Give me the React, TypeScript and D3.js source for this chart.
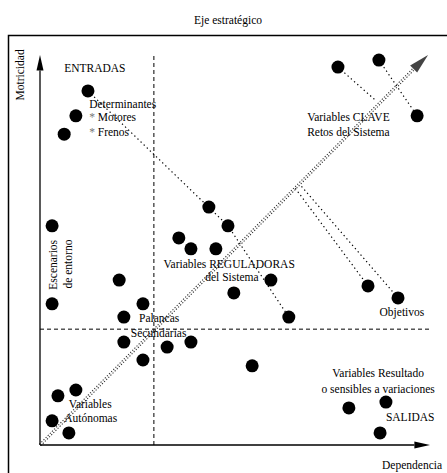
import React from "react";
import * as d3 from "d3";

// dependencia (x) / motricidad (y), 0-100
const variableX = [12.3, 9.2, 6.2, 76.4, 86.9, 96.7, 43.3, 48.2, 35.6, 38.7, 45.1, 3.1, 20.3, 59.2, 49.7, 3.1, 26.4, 21.5, 63.8, 84.1, 91.8, 21.5, 38.7, 32.6, 26.4, 54.4, 9.2, 4.6, 3.1, 7.4, 79.2, 88.7, 87.2];
const variableY = [90.8, 84.4, 79.7, 96.9, 98.7, 84.4, 61.0, 56.2, 53.1, 50.3, 50.3, 56.2, 42.3, 42.3, 39.0, 36.2, 36.2, 32.8, 32.8, 40.8, 37.7, 26.4, 26.4, 25.1, 21.8, 20.3, 14.1, 12.6, 6.2, 3.1, 9.5, 11.0, 3.1];

const splitX = 29.2;
const splitY = 29.7;

// dotted guide links
const links: [number, number][][] = [
  [[12.3, 90.8], [48.2, 56.2], [63.8, 32.8]],
  [[86.9, 98.7], [96.7, 84.4]],
  [[76.4, 96.9], [85.9, 88.5]],
  [[84.1, 40.8], [65.4, 65.9]],
  [[91.8, 37.7], [66.7, 66.7]],
];

const strategicEnd: [number, number] = [95.8, 96.4];
const strategicTip: [number, number] = [99.5, 100];

type Note = { text: string; x: number; y: number; anchor?: string; rotate?: boolean; star?: boolean };
const notes: Note[] = [
  { text: "ENTRADAS", x: 6.2, y: 95.6 },
  { text: "Determinantes", x: 12.6, y: 86.4 },
  { text: "Motores", x: 12.6, y: 83.1, star: true },
  { text: "Frenos", x: 12.6, y: 79.2, star: true },
  { text: "Variables CLAVE", x: 68.5, y: 83.1 },
  { text: "Retos del Sistema", x: 68.5, y: 79.2 },
  { text: "Escenarios", x: 4.4, y: 46.2, anchor: "middle", rotate: true },
  { text: "de entorno", x: 8.2, y: 46.4, anchor: "middle", rotate: true },
  { text: "Variables REGULADORAS", x: 48.5, y: 45.4, anchor: "middle" },
  { text: "del Sistema", x: 49.2, y: 42.1, anchor: "middle" },
  { text: "Objetivos", x: 92.8, y: 33.1, anchor: "middle" },
  { text: "Palancas", x: 25.4, y: 31.5 },
  { text: "Secundarias", x: 23.3, y: 27.7 },
  { text: "Variables Resultado", x: 86.7, y: 17.4, anchor: "middle" },
  { text: "o sensibles a variaciones", x: 86.7, y: 13.3, anchor: "middle" },
  { text: "SALIDAS", x: 88.7, y: 6.2 },
  { text: "Variables", x: 7.4, y: 9.5 },
  { text: "Autónomas", x: 6.2, y: 5.9 },
  { text: "Dependencia", x: 87.7, y: -6.2 },
  { text: "Motricidad", x: -4.1, y: 94.9, anchor: "middle", rotate: true },
];

const W = 447;
const H = 473;
const font = "'Liberation Serif', 'Times New Roman', serif";

export default function App() {
  const x = d3.scaleLinear().domain([0, 100]).range([40, 430]);
  const y = d3.scaleLinear().domain([0, 100]).range([445, 55]);
  const line = d3
    .line<[number, number]>()
    .x((d) => x(d[0]))
    .y((d) => y(d[1]));

  const x0 = x(0);
  const y0 = y(0);
  const sx = x(strategicEnd[0]);
  const sy = y(strategicEnd[1]);
  const tx = x(strategicTip[0]);
  const ty = y(strategicTip[1]);
  // perpendicular for arrowhead + double dotted line
  const len = Math.hypot(tx - sx, ty - sy);
  const px = -(ty - sy) / len;
  const py = (tx - sx) / len;

  return (
    <svg width={W} height={H} style={{ position: "absolute", left: 0, top: 0 }} fontFamily={font} fontSize={11.5}>
      <rect x={0} y={0} width={W} height={H} fill="#fff" />
      <rect x={8.5} y={35.5} width={460} height={460} fill="none" stroke="#000" strokeWidth={1.5} />
      <text x={228} y={24} textAnchor="middle">Eje estratégico</text>

      {/* quadrant dividers */}
      <line x1={x(splitX)} x2={x(splitX)} y1={y(0)} y2={y(100)} stroke="#000" strokeDasharray="4,3" />
      <line x1={x(0)} x2={x(100)} y1={y(splitY)} y2={y(splitY)} stroke="#000" strokeDasharray="4,3" />

      {/* strategic axis */}
      {[-1, 1].map((o) => (
        <line
          key={o}
          x1={x0 + px * o}
          y1={y0 + py * o}
          x2={sx + px * o}
          y2={sy + py * o}
          stroke="#333"
          strokeWidth={1.1}
          strokeDasharray="1.2,1.8"
        />
      ))}
      <path
        d={`M${tx},${ty}L${sx + px * 5},${sy + py * 5}L${sx - px * 5},${sy - py * 5}Z`}
        fill="#444"
      />

      {links.map((l, i) => (
        <path key={i} d={line(l) ?? ""} fill="none" stroke="#000" strokeWidth={1.2} strokeDasharray="1.3,3" />
      ))}

      {/* axes */}
      <line x1={x0} x2={x0} y1={y0} y2={y(96)} stroke="#000" strokeWidth={1.3} />
      <path d={`M${x0},${y(100)}L${x0 - 3.5},${y(96)}L${x0 + 3.5},${y(96)}Z`} fill="#000" />
      <line x1={x0} x2={x(96)} y1={y0} y2={y0} stroke="#000" strokeWidth={1.3} />
      <path d={`M${x(100)},${y0}L${x(96)},${y0 - 3.5}L${x(96)},${y0 + 3.5}Z`} fill="#000" />

      {variableX.map((v, i) => (
        <circle key={i} cx={x(v)} cy={y(variableY[i])} r={6.5} fill="#000" />
      ))}

      {notes.map((n, i) =>
        n.rotate ? (
          <text
            key={i}
            transform={`translate(${x(n.x)},${y(n.y)}) rotate(-90)`}
            textAnchor={n.anchor ?? "start"}
          >
            {n.text}
          </text>
        ) : (
          <text key={i} x={x(n.x)} y={y(n.y)} textAnchor={n.anchor ?? "start"}>
            {n.star ? <tspan fill="#777">* </tspan> : null}
            {n.text}
          </text>
        )
      )}
    </svg>
  );
}
